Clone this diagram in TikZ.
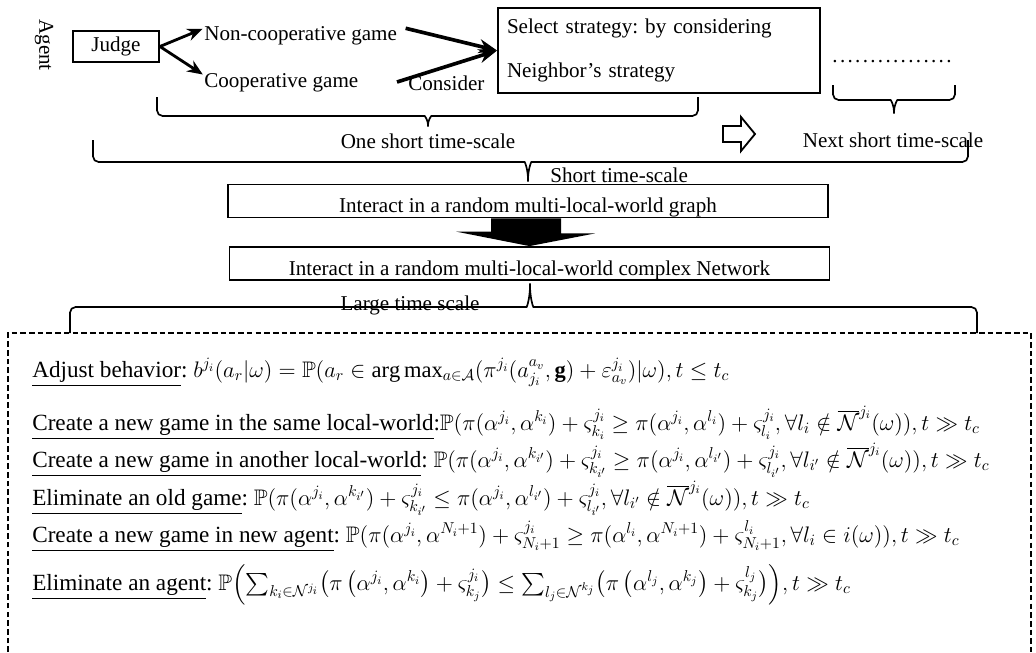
\RequirePackage{fix-cm}
\documentclass[tikz,border=0pt]{standalone}
\usepackage{amsmath,amssymb}
\usepackage{fontspec}
\setmainfont{Liberation Serif}
\frenchspacing
\usetikzlibrary{arrows.meta,
                calc,
                positioning}

% formulas in the rows
\newcommand{\fml}[1]{{\fontsize{16}{19}\selectfont$#1$}}
% curly brace: x-left, x-tip, x-right, y-ends, y-line, y-tip
\newcommand{\tbrace}[6]{%
  \draw[brace line] (#1,#4) -- (#1,#5) -- (#2-9,#5)
     .. controls (#2-3,#5) and (#2,{#5+0.35*(#6-#5)}) .. (#2,#6)
     .. controls (#2,{#5+0.35*(#6-#5)}) and (#2+3,#5) .. (#2+9,#5)
     -- (#3,#5) -- (#3,#4);}

\begin{document}
\begin{tikzpicture}[x=0.25mm, y=-0.25mm,
  every node/.style = {font=\fontsize{15}{18}\selectfont, inner sep=0pt},
        box/.style = {draw, line width=1.3pt},
      panel/.style = {box, minimum width=150mm, minimum height=8.25mm,
                      text height=17pt, text depth=0pt},
        row/.style = {anchor=base west, font=\fontsize{16.5}{20}\selectfont},
   brace line/.style = {line width=1.2pt, rounded corners=4pt},
   thin arrow/.style = {line width=2pt, -{Stealth[length=11pt, width=9pt]}},
  thick arrow/.style = {line width=2.6pt, -{Stealth[length=13pt, width=10pt]}},
  dashed line/.style = {line width=1.5pt, dash pattern=on 4pt off 2.2pt}
                    ]
  \useasboundingbox (0,0) rectangle (1036,652);
  % one short time-scale
  \node [rotate=-90] (agent) at (44,45) {Agent};
  \node [box, minimum width=21.5mm, minimum height=7.75mm] (judge) at (116,46.5) {Judge};
  \node [anchor=base west] (noncoop)  at (204,40) {Non-cooperative game};
  \node [anchor=base west] (coop)     at (204,87) {Cooperative game};
  \node [anchor=base west] (consider) at (408,90) {Consider};
  \node [box, minimum width=80.5mm, minimum height=21.25mm, text width=76mm, align=left]
        (select) at (659,50.5) {Select strategy: by considering\\[13pt]Neighbor's strategy};
  \coordinate (cstart) at (397,82);
  %
  \draw [thin arrow, shorten >=1pt] (judge.east) -- ([yshift=5pt]noncoop.west);
  \draw [thin arrow, shorten >=1pt] (judge.east) -- ([yshift=5pt]coop.west);
  \draw [thick arrow] ([shift={(6pt,5pt)}]noncoop.east) -- (select.west);
  \draw [thick arrow] (cstart) -- (select.west);
  %
  \node [anchor=base] (dots)     at (892,62)  {\addfontfeatures{LetterSpace=11}................};
  \node [anchor=base] (onelbl)   at (428,148) {One short time-scale};
  \node [anchor=base] (nextlbl)  at (893,147) {Next short time-scale};
  \draw [line width=1.3pt] (723,126) -- (741,126) -- (741,117) -- (755,134)
        -- (741,151) -- (741,142) -- (723,142) -- cycle;
  %
  \tbrace{157}{428}{698}{97}{116}{130}
  \tbrace{833}{894}{955}{85}{100}{117}
  % short time-scale
  \node [anchor=base west] (shortlbl) at (550,182) {Short time-scale};
  \node [panel] (graph)   at (528,201)     {Interact in a random multi-local-world graph};
  \node [panel] (network) at (529.5,263.5) {Interact in a random multi-local-world complex Network};
  \tbrace{93}{528}{968}{140}{162}{185}
  \fill (graph.south) ++(-37,0) -- ++(70,0) -- ++(0,15) -- ++(34,0)
        -- (network.north) -- ++(-73.5,-14.5) -- ++(35,0) -- cycle;
  % large time scale
  \node [anchor=base] (largelbl) at (410,310) {Large time scale};
  \tbrace{70}{530}{977}{333}{307}{280}
  \draw [dashed line] (8,652) -- (8,333) -- (1031,333) -- (1031,652);
  %
  \node [row] (adjust) at (32,377) {\underline{Adjust behavior}:
     \fml{b^{j_i}(a_r|\omega)=\mathbb{P}(a_r\in\arg\max_{a\in\mathcal{A}}(\pi^{j_i}(a^{a_v}_{j_i},\mathbf{g})+\varepsilon^{j_i}_{a_v})|\omega),t\le t_c}};
  \node [row] (samegame) at (32,430) {\underline{Create a new game in the same local-world}:%
     \fml{\mathbb{P}(\pi(\alpha^{j_i},\alpha^{k_i})+\varsigma^{j_i}_{k_i}\ge\pi(\alpha^{j_i},\alpha^{l_i})+\varsigma^{j_i}_{l_i},\forall l_i\notin\overline{\mathcal{N}}^{j_i}(\omega)),t\gg t_c}};
  \node [row] (othergame) at (32,467) {\underline{Create a new game in another local-world}:
     \fml{\mathbb{P}(\pi(\alpha^{j_i},\alpha^{k_{i'}})+\varsigma^{j_i}_{k_{i'}}\ge\pi(\alpha^{j_i},\alpha^{l_{i'}})+\varsigma^{j_i}_{l_{i'}},\forall l_{i'}\notin\overline{\mathcal{N}}^{j_i}(\omega)),t\gg t_c}};
  \node [row] (oldgame) at (32,505) {\underline{Eliminate an old game}:
     \fml{\mathbb{P}(\pi(\alpha^{j_i},\alpha^{k_{i'}})+\varsigma^{j_i}_{k_{i'}}\le\pi(\alpha^{j_i},\alpha^{l_{i'}})+\varsigma^{j_i}_{l_{i'}},\forall l_{i'}\notin\overline{\mathcal{N}}^{j_i}(\omega)),t\gg t_c}};
  \node [row] (newagent) at (32,542) {\underline{Create a new game in new agent}:
     \fml{\mathbb{P}(\pi(\alpha^{j_i},\alpha^{N_i+1})+\varsigma^{j_i}_{N_i+1}\ge\pi(\alpha^{l_i},\alpha^{N_i+1})+\varsigma^{l_i}_{N_i+1},\forall l_i\in i(\omega)),t\gg t_c}};
  \node [row] (oldagent) at (32,590) {\underline{Eliminate an agent}:
     \fml{\mathbb{P}\Bigl(\sum_{k_i\in\mathcal{N}^{j_i}}\bigl(\pi\left(\alpha^{j_i},\alpha^{k_i}\right)+\varsigma^{j_i}_{k_j}\bigr)\le\sum_{l_j\in\mathcal{N}^{k_j}}\bigl(\pi\left(\alpha^{l_j},\alpha^{k_j}\right)+\varsigma^{l_j}_{k_j}\bigr)\Bigr),t\gg t_c}};
\end{tikzpicture}
\end{document}
